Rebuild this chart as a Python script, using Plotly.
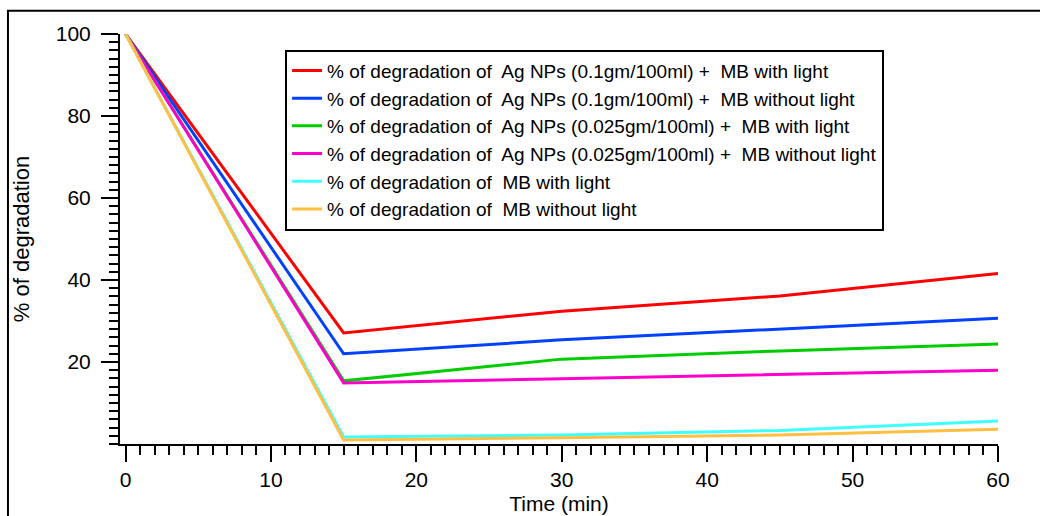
import plotly.graph_objects as go

time_min = [0, 15, 30, 45, 60]

ag01_light = [100, 27.1, 32.4, 36.1, 41.6]
ag01_dark = [100, 22.0, 25.4, 28.0, 30.7]
ag0025_light = [100, 15.4, 20.7, 22.7, 24.4]
ag0025_dark = [100, 14.9, 15.9, 16.9, 18.0]
mb_light = [100, 1.7, 2.2, 3.3, 5.6]
mb_dark = [100, 1.0, 1.5, 2.2, 3.6]

S = "\u00a0 "
series_names = [
    f"% of degradation of{S}Ag NPs (0.1gm/100ml) +{S}MB with light",
    f"% of degradation of{S}Ag NPs (0.1gm/100ml) +{S}MB without light",
    f"% of degradation of{S}Ag NPs (0.025gm/100ml) +{S}MB with light",
    f"% of degradation of{S}Ag NPs (0.025gm/100ml) +{S}MB without light",
    f"% of degradation of{S}MB with light",
    f"% of degradation of{S}MB without light",
]
series_values = [ag01_light, ag01_dark, ag0025_light, ag0025_dark, mb_light, mb_dark]
series_colors = ["#ff0000", "#0040ff", "#00cc00", "#ff00cc", "#40ffff", "#ffbf40"]

y_tick_vals = [20, 40, 60, 80, 100]
x_tick_vals = [0, 10, 20, 30, 40, 50, 60]

fig = go.Figure()
for name, vals, col in zip(series_names, series_values, series_colors):
    fig.add_trace(go.Scatter(x=time_min, y=vals, mode="lines", name=name,
                             line=dict(color=col, width=3)))

FONT = "Liberation Sans, Arial, sans-serif"

fig.update_layout(
    width=1040, height=516,
    margin=dict(l=120, r=42, t=34, b=72),
    paper_bgcolor="white", plot_bgcolor="white",
    font=dict(family=FONT, size=21, color="black"),
    showlegend=True,
    legend=dict(x=0.188, y=0.962, xanchor="left", yanchor="top",
                bgcolor="white", bordercolor="black", borderwidth=2,
                font=dict(family=FONT, size=19, color="black"),
                tracegroupgap=0, entrywidth=660, entrywidthmode="pixels"),
    xaxis=dict(range=[-0.38, 60], tickvals=x_tick_vals, ticks="outside",
               ticklen=16, tickwidth=2, tickcolor="black",
               showline=True, linewidth=2, linecolor="black",
               showgrid=False, zeroline=False, ticklabelstandoff=0,
               tickfont=dict(size=21), automargin=False,
               minor=dict(dtick=1, tick0=0, ticks="outside", ticklen=9,
                          tickwidth=2, tickcolor="black", showgrid=False),
               title=dict(text="Time (min)", font=dict(size=21), standoff=6)),
    yaxis=dict(range=[0, 100], tickvals=y_tick_vals, ticks="outside",
               ticklen=17, tickwidth=2, tickcolor="black",
               showline=True, linewidth=2, linecolor="black",
               showgrid=False, zeroline=False, ticklabelstandoff=6,
               tickfont=dict(size=21), automargin=False,
               minor=dict(dtick=2, tick0=0, ticks="outside", ticklen=9,
                          tickwidth=2, tickcolor="black", showgrid=False),
               title=dict(text="% of degradation", font=dict(size=22), standoff=20)),
    shapes=[dict(type="rect", xref="paper", yref="paper",
                 x0=-0.1276, x1=1.3, y0=-0.4, y1=1.057,
                 line=dict(color="black", width=2), fillcolor="rgba(0,0,0,0)",
                 layer="below")],
)

fig.write_html("out.html")
